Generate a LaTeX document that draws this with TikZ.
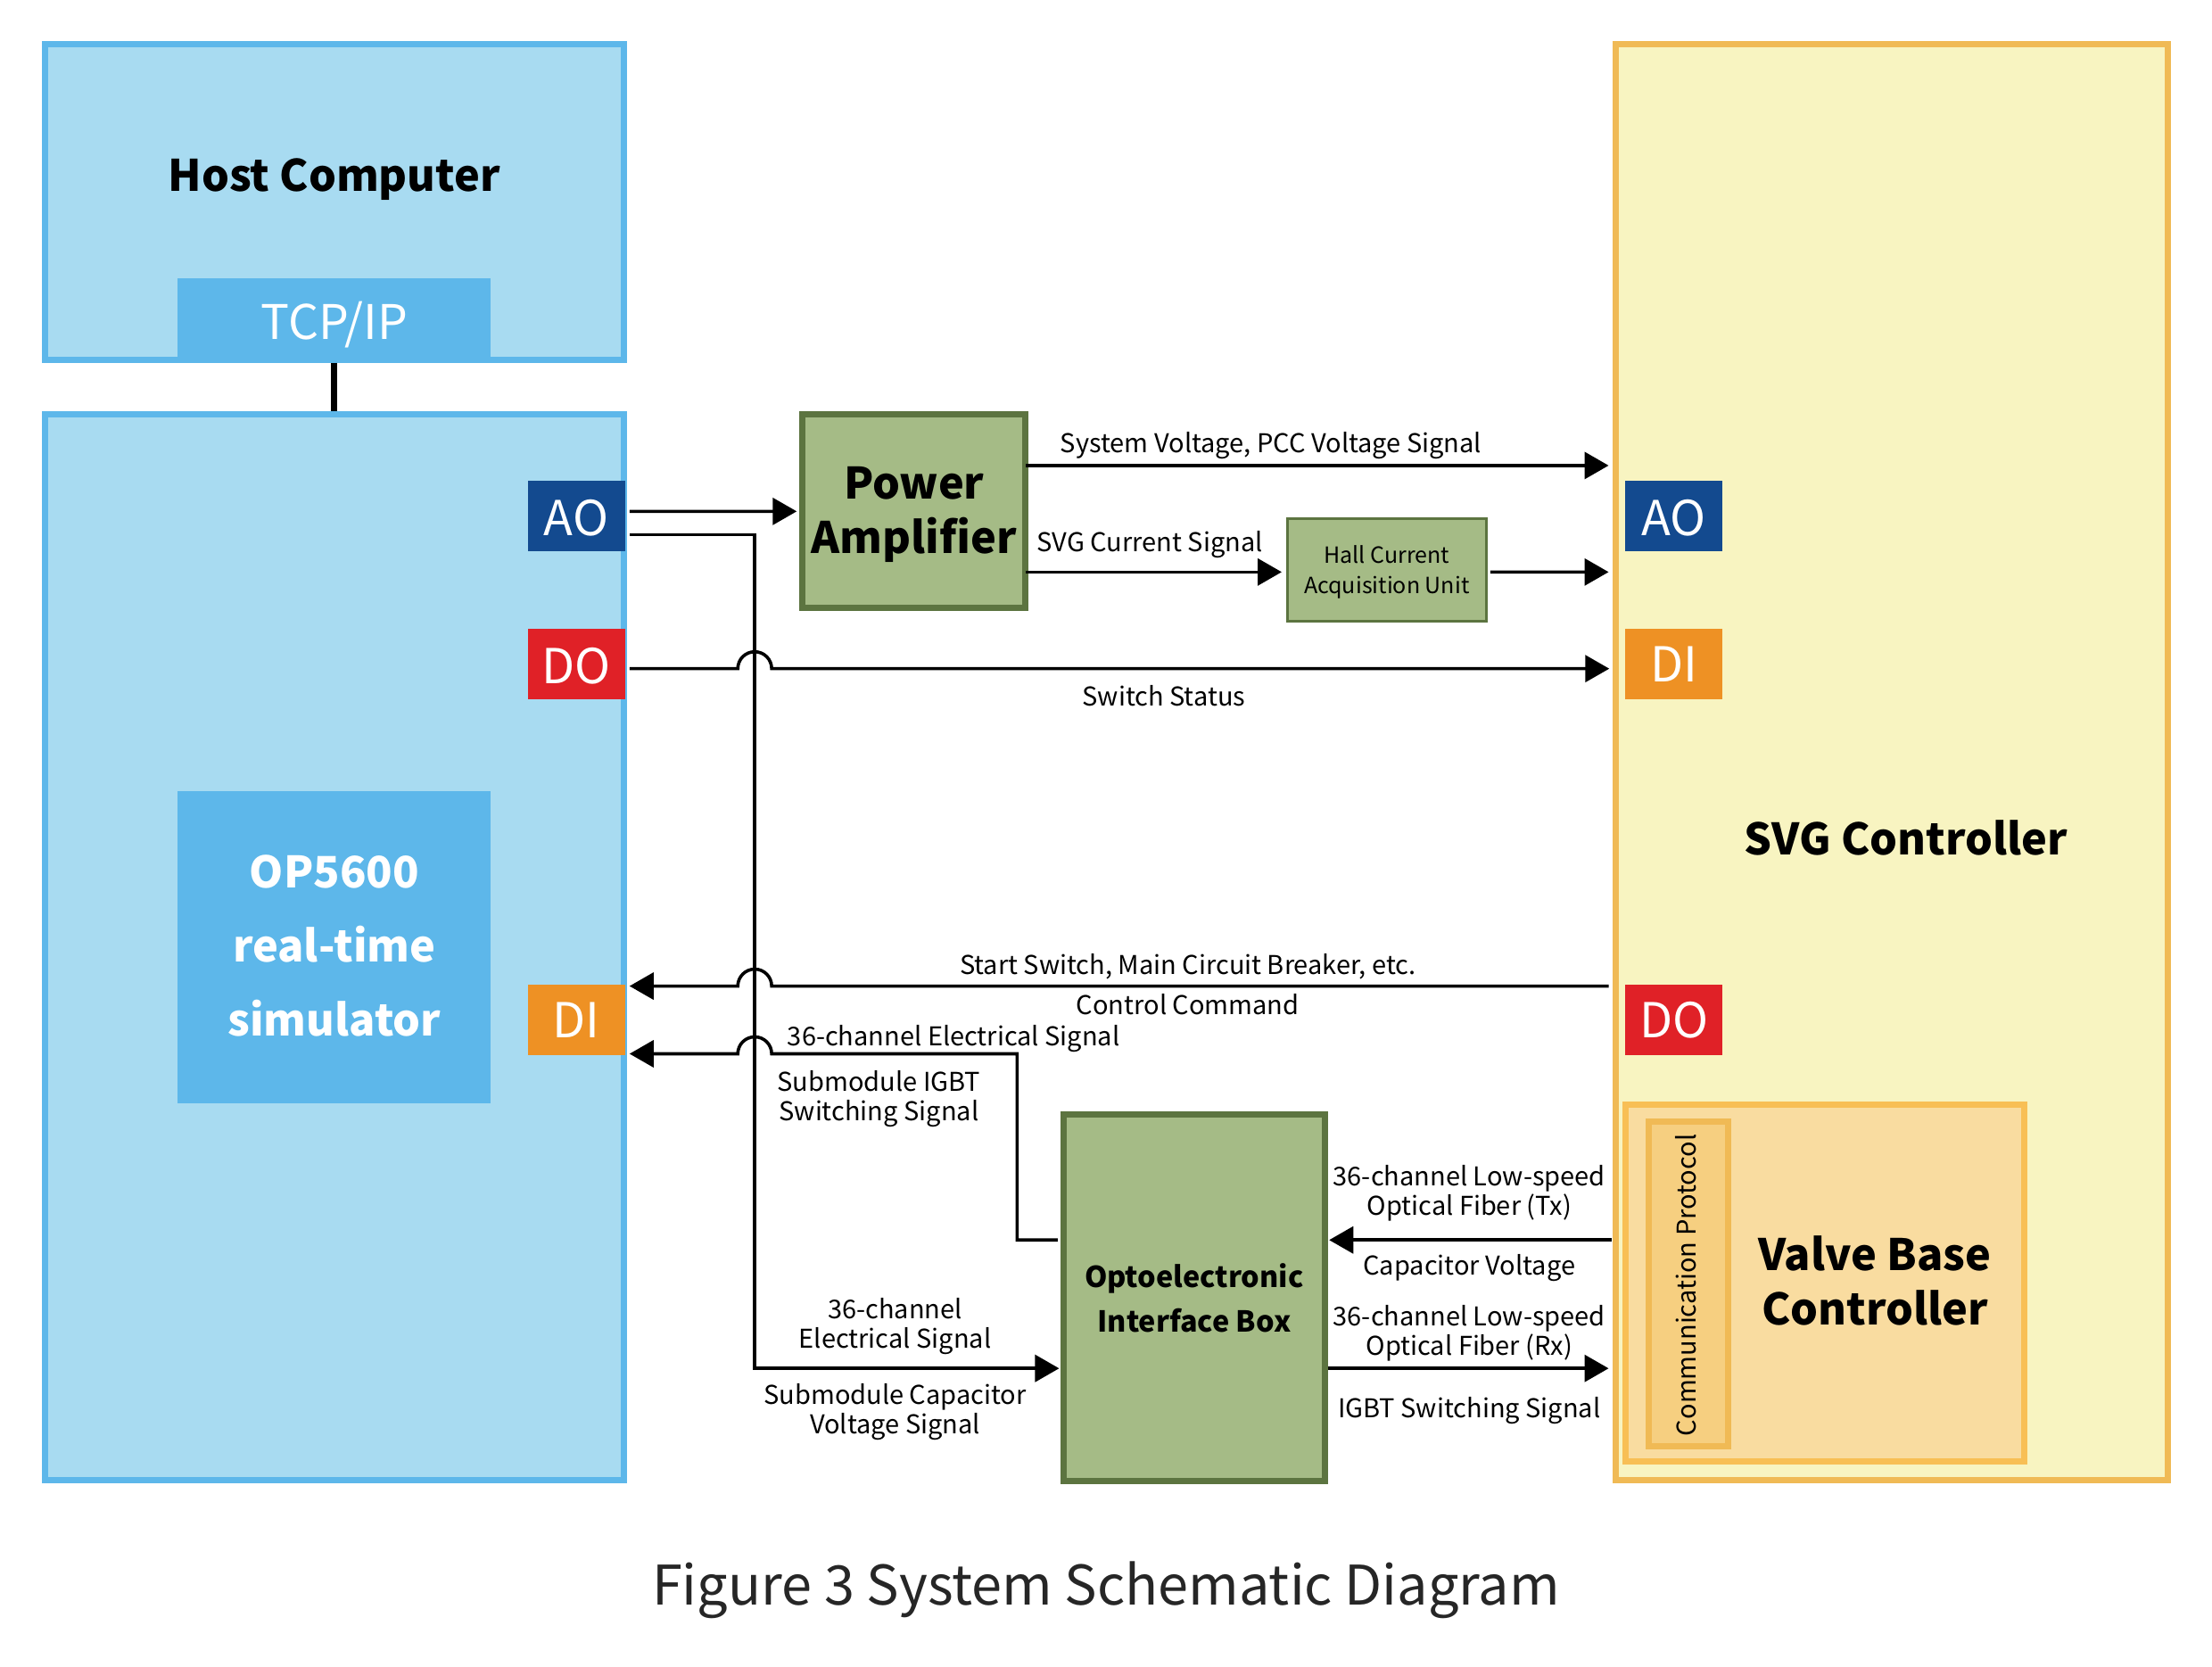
\documentclass[tikz,border=0pt]{standalone}
\usepackage{fontspec}
\setmainfont{Noto Sans CJK SC}
\usetikzlibrary{arrows.meta,calc}
\definecolor{skyfill}{HTML}{A8DBF1}
\definecolor{skyline}{HTML}{5DB7EA}
\definecolor{aoblue}{HTML}{134A8F}
\definecolor{dored}{HTML}{E02127}
\definecolor{diorange}{HTML}{EE9124}
\definecolor{leaffill}{HTML}{A5BB86}
\definecolor{leafline}{HTML}{5C7440}
\definecolor{creamfill}{HTML}{F8F4C1}
\definecolor{amberline}{HTML}{F0BA55}
\definecolor{valvefill}{HTML}{F9DCA0}
\definecolor{valveline}{HTML}{F8BF55}
\definecolor{protofill}{HTML}{F6CF80}
\def\u{0.79082pt}
\newcommand{\dropby}[2]{\raisebox{-#1}[\height][\depth]{#2}}
\tikzset{
    sizedbox/.style 2 args={rectangle, inner sep=0pt, minimum width=#1*\u, minimum height=#2*\u},
    skybox/.style={draw=skyline, fill=skyfill, line width=3.5pt},
    leafbox/.style={draw=leafline, fill=leaffill, line width=3.5pt},
    amberbox/.style={draw=amberline, fill=creamfill, line width=3.5pt},
    skypad/.style={fill=skyline, text=white},
    ioport/.style={sizedbox={69}{50}, text=white, font=\fontsize{27}{30}\selectfont},
    sig/.style={->, line width=1.8pt},
    signote/.style={align=center, inner sep=0pt, font=\fontsize{14.5}{16.6}\selectfont},
    titletext/.style={align=center, inner sep=0pt, font=\fontsize{24.3}{30.5}\selectfont\bfseries}
}
\begin{document}
\begin{tikzpicture}[x=0.79082pt, y=-0.79082pt, >={Triangle[length=13.5pt,width=15pt]}]
\useasboundingbox (0,0) rectangle (1568,1181.2);
% left side
\node[sizedbox={410}{224}, skybox] (host) at (237,143) {};
\node[sizedbox={222}{60}, skypad, font=\fontsize{26.7}{30}\selectfont] (tcp) at (237,227) {\dropby{2.4pt}{TCP/IP}};
\node[titletext] (hostname) at (237,127) {Host Computer};
\node[sizedbox={410}{755}, skybox] (sim) at (237,671.5) {};
\node[sizedbox={222}{221}, skypad] (op) at (237,671.5) {};
\node[align=center, inner sep=0pt, text=white, font=\fontsize{24.3}{41.3}\selectfont\bfseries] (optext) at (237,670.5) {OP5600\\real-time\\simulator};
\node[ioport, fill=aoblue] (aol) at (408.5,366) {\dropby{0.8pt}{AO}};
\node[ioport, fill=dored] (dol) at (408.5,471) {\dropby{0.8pt}{DO}};
\node[ioport, fill=diorange] (dil) at (408.5,723) {DI};
% middle
\node[sizedbox={158}{137}, leafbox, align=center, font=\fontsize{24.3}{30.5}\selectfont\bfseries] (pa) at (648,362.5) {\dropby{1.6pt}{Power}\\\dropby{1.6pt}{Amplifier}};
\node[sizedbox={141}{73}, draw=leafline, fill=leaffill, line width=1.5pt, align=center, font=\fontsize{12.5}{17}\selectfont] (hall) at (983,404) {\dropby{1pt}{Hall Current}\\\dropby{1pt}{Acquisition Unit}};
\node[sizedbox={185}{260}, leafbox, align=center, font=\fontsize{16.2}{25}\selectfont\bfseries] (opto) at (846.5,920) {Optoelectronic\\Interface Box};
% right side
\node[sizedbox={391}{1018}, amberbox] (svg) at (1341,540) {};
\node[titletext] (svgname) at (1351,594) {SVG Controller};
\node[ioport, fill=aoblue] (aor) at (1186.5,366) {\dropby{0.8pt}{AO}};
\node[ioport, fill=diorange] (dir) at (1186.5,471) {DI};
\node[ioport, fill=dored] (dor) at (1186.5,723) {DO};
\node[sizedbox={283}{253}, draw=valveline, fill=valvefill, line width=3.5pt] (valve) at (1293.5,909.5) {};
\node[sizedbox={56}{230}, draw=amberline, fill=protofill, line width=3.5pt] (proto) at (1197,910) {};
\node[rotate=90, inner sep=0pt, font=\fontsize{14.5}{16}\selectfont] (prototext) at (1195,911) {Communication Protocol};
\node[titletext] (valvename) at (1329,908) {Valve Base\\Controller};
% connectors
\draw[line width=3.6pt] (tcp.south) -- (sim.north);
\draw[sig] ($(aol.east)+(3,-3.5)$) -- ($(pa.west)+(-2,0)$);
\draw[sig] ($(aol.east)+(3,13)$) -- (535,379) -- (535,970) -- ($(opto.west)+(-1,50)$);
\draw[sig] ($(pa.east)+(-2,-32.5)$) -- ($(svg.west)+(-3,-210)$);
\draw[sig] ($(pa.east)+(-2,43)$) -- ($(hall.west)+(-3,1.5)$);
\draw[sig] ($(hall.east)+(2,1.5)$) -- ($(svg.west)+(-3,-134.5)$);
\draw[sig] ($(dol.east)+(3,3)$) -- (523,474) arc[start angle=180, end angle=360, radius=12] -- ($(dir.west)+(-11,3)$);
\draw[sig] ($(svg.west)+(-3,159)$) -- (547,699) arc[start angle=0, end angle=-180, radius=12] -- ($(dil.east)+(3,-24)$);
\draw[sig] ($(opto.west)+(-2,-41)$) -- (721,879) -- (721,747) -- (547,747) arc[start angle=0, end angle=-180, radius=12] -- ($(dil.east)+(3,24)$);
\draw[sig] ($(svg.west)+(-1,339)$) -- ($(opto.east)+(1,-41)$);
\draw[sig] ($(opto.east)+(0,50)$) -- ($(svg.west)+(-3,430)$);
% labels
\node[signote] (lbvolt) at (901,316) {System Voltage, PCC Voltage Signal};
\node[signote] (lbcurr) at (815,386) {SVG Current Signal};
\node[signote] (lbstat) at (825,493) {Switch Status};
\node[signote] (lbstart) at (842,685) {Start Switch, Main Circuit Breaker, etc.};
\node[signote] (lbctrl) at (842,712) {Control Command};
\node[signote] (lbelec) at (676,736) {36-channel Electrical Signal};
\node[signote] (lbigbt) at (623,779) {Submodule IGBT\\Switching Signal};
\node[signote] (lbtx) at (1041.5,846) {36-channel Low-speed\\Optical Fiber (Tx)};
\node[signote] (lbcap) at (1041.5,899) {Capacitor Voltage};
\node[signote] (lbrx) at (1041.5,945) {36-channel Low-speed\\Optical Fiber (Rx)};
\node[signote] (lbsw) at (1041.5,1000) {IGBT Switching Signal};
\node[signote] (lbch) at (634.5,940) {36-channel\\Electrical Signal};
\node[signote] (lbsub) at (634.5,1001) {Submodule Capacitor\\Voltage Signal};
\node[inner sep=0pt, text=black!85, font=\fontsize{30.6}{36}\selectfont] (caption) at (784,1127) {Figure 3 System Schematic Diagram};
\end{tikzpicture}
\end{document}
